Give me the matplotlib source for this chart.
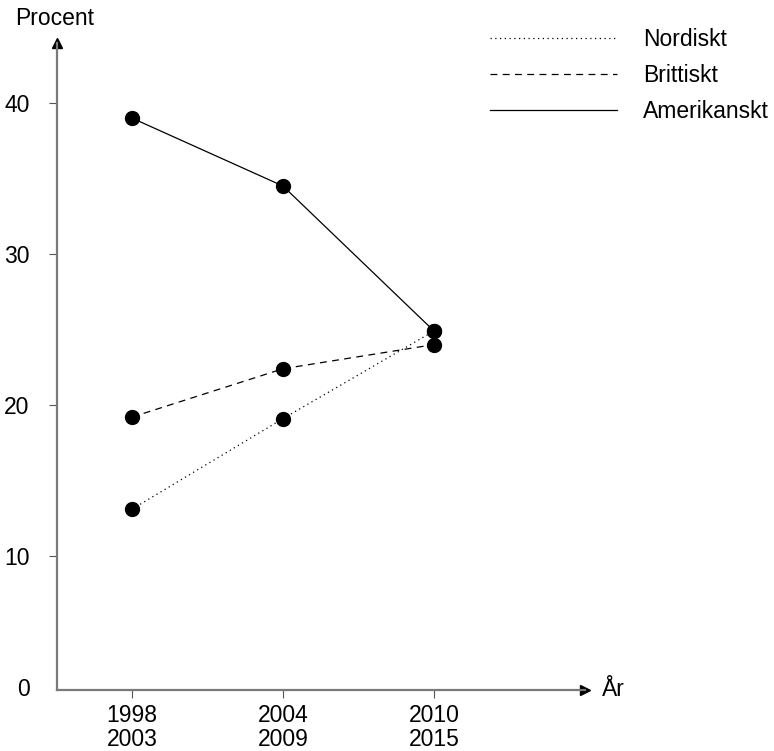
import matplotlib
matplotlib.use("Agg")
import matplotlib.pyplot as plt
from matplotlib.lines import Line2D

plt.rcParams["font.family"] = ["Liberation Sans", "DejaVu Sans"]
plt.rcParams["font.size"] = 16.5

# data
periods = ["1998\n2003", "2004\n2009", "2010\n2015"]
nordiskt = [13.1, 19.1, 24.9]
brittiskt = [19.2, 22.4, 24.0]
amerikanskt = [39.0, 34.5, 24.9]
yticks = [10, 20, 30, 40]

W, H = 774, 751
FS = 16.5
fig = plt.figure(figsize=(W / 100, H / 100), dpi=100)

# axes placed in pixels so that 40 -> y=103 and categories at x=132,283,434
x0, x1 = -0.5, 3.0
y0, y1 = 1.15, 44.0
px_x, px_y = 151.0, 15.1
left = 132 + x0 * px_x
top = 103 - (y1 - 40) * px_y
width = (x1 - x0) * px_x
height = (y1 - y0) * px_y
ax = fig.add_axes([left / W, (H - top - height) / H, width / W, height / H])

xs = range(len(periods))
ax.plot(xs, nordiskt, color="black", lw=0.9, ls=(0, (1, 2.8)),
        marker="o", ms=10, clip_on=False)
ax.plot(xs, brittiskt, color="black", lw=0.9, ls=(0, (5.5, 4.3)),
        marker="o", ms=10, clip_on=False)
ax.plot(xs, amerikanskt, color="black", lw=0.9, ls="-",
        marker="o", ms=10, clip_on=False)

ax.set_xlim(x0, x1)
ax.set_ylim(y0, y1)
ax.set_xticks(list(xs))
ax.set_xticklabels(periods, fontsize=FS, linespacing=1.08)
ax.set_yticks(yticks)
ax.set_yticklabels([str(v) for v in yticks], fontsize=FS)

for s in ["top", "right"]:
    ax.spines[s].set_visible(False)
for s in ["left", "bottom"]:
    ax.spines[s].set_color("#7a7a7a")
    ax.spines[s].set_linewidth(1.6)

ax.tick_params(axis="y", length=5.8, width=0.8, color="#555555", pad=13.5)
ax.tick_params(axis="x", length=5.8, width=0.8, color="#555555", pad=4.5)

# arrow heads
ax.plot(1, 0, ">", transform=ax.transAxes, clip_on=False, color="black", ms=7)
ax.plot(0, 1, "^", transform=ax.transAxes, clip_on=False, color="black", ms=7)

ax.text(x0 - 27 / px_x, y0, "0", ha="right", va="center", fontsize=FS)
ax.text(602 / W, (H - 690) / H, "År", transform=fig.transFigure,
        ha="left", va="center", fontsize=FS)
fig.text(55 / W, (H - 25) / H, "Procent", ha="center", va="baseline", fontsize=FS)

handles = [
    Line2D([], [], color="black", lw=0.9, ls=(0, (1, 2.8))),
    Line2D([], [], color="black", lw=0.9, ls=(0, (5.5, 4.3))),
    Line2D([], [], color="black", lw=0.9, ls="-"),
]
fig.legend(handles, ["Nordiskt", "Brittiskt", "Amerikanskt"],
           loc="upper left", bbox_to_anchor=(490 / W, (H - 28) / H),
           frameon=False, borderpad=0, borderaxespad=0,
           handlelength=127 / 22.9, handletextpad=26 / 22.9, labelspacing=0.57,
           fontsize=FS)

fig.savefig("out.png", dpi=100)
